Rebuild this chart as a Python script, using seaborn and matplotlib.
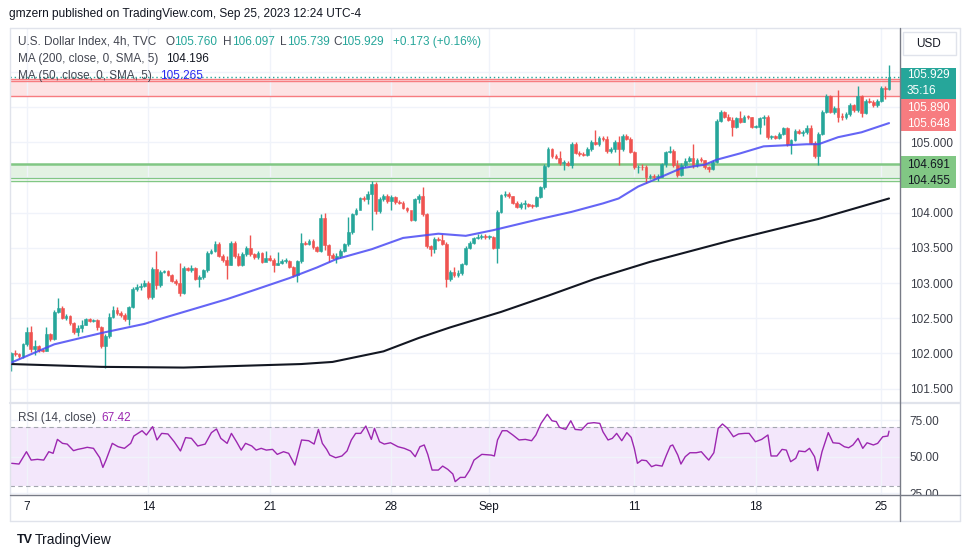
import numpy as np
import pandas as pd
import seaborn as sns
import matplotlib.pyplot as plt
from matplotlib.patches import Rectangle
from matplotlib.lines import Line2D

# ---- data (4h candles, U.S. Dollar Index, Aug 7 - Sep 25 2023) ----
first_open = 101.88
close = [102.00, 101.99, 101.96, 102.13, 102.31, 102.06, 102.10, 102.05, 102.04, 102.27,
         102.21, 102.59, 102.65, 102.51, 102.53, 102.43, 102.31, 102.36, 102.40, 102.49,
         102.46, 102.47, 102.37, 102.10, 102.25, 102.52, 102.62, 102.58, 102.55, 102.49,
         102.66, 102.92, 102.95, 102.96, 103.00, 102.80, 103.20, 102.97, 103.15,
         103.17, 103.12, 103.03, 103.00, 102.86, 103.21, 103.19, 103.22, 103.06, 103.08, 103.18,
         103.43, 103.45, 103.56, 103.39, 103.33, 103.26, 103.57, 103.39, 103.26, 103.41,
         103.50, 103.41, 103.37, 103.42, 103.30, 103.36, 103.33, 103.26, 103.28, 103.31,
         103.31, 103.23, 103.11, 103.31, 103.57, 103.56, 103.60,
         103.51, 103.46, 103.93, 103.54, 103.40, 103.36, 103.38, 103.46, 103.55, 103.73,
         103.98, 104.03, 104.20, 104.19, 104.26, 104.41, 104.02, 104.19, 104.24, 104.16,
         104.22, 104.15, 104.14, 104.07, 104.03, 103.90, 104.19, 104.24, 103.98, 103.52,
         103.48, 103.63, 103.61, 103.56, 103.06, 103.16, 103.12, 103.14, 103.27,
         103.50, 103.57, 103.64, 103.66, 103.67, 103.65, 103.66, 103.50, 104.01, 104.25,
         104.27, 104.23, 104.14, 104.08, 104.12, 104.12, 104.10, 104.09, 104.22, 104.36,
         104.66, 104.90, 104.80, 104.78, 104.70, 104.70, 104.68, 104.98, 104.85, 104.83,
         104.82, 104.90, 105.00, 104.98, 105.06, 105.04, 104.87, 104.90, 105.00,
         104.90, 105.09, 105.05, 104.86, 104.64, 104.65, 104.64, 104.50, 104.52, 104.50,
         104.51, 104.69, 104.86, 104.88, 104.68, 104.53, 104.67, 104.73, 104.77, 104.67,
         104.75, 104.74, 104.64, 104.62, 104.72, 105.30, 105.43, 105.36, 105.32, 105.21,
         105.34, 105.29, 105.36, 105.35, 105.22, 105.22, 105.34, 105.36,
         105.07, 105.08, 105.06, 105.12, 105.20, 104.98, 105.03, 105.16, 105.13, 105.14,
         105.20, 104.99, 104.81, 105.12, 105.43, 105.66, 105.43, 105.49, 105.36, 105.35,
         105.40, 105.52, 105.45, 105.66, 105.41, 105.59, 105.57, 105.52, 105.59, 105.77, 105.76, 105.929]
high = [102.02, 102.05, 102.01, 102.15, 102.37, 102.39, 102.19, 102.12, 102.07, 102.37,
        102.29, 102.62, 102.79, 102.67, 102.56, 102.55, 102.45, 102.40, 102.48, 102.51,
        102.51, 102.49, 102.49, 102.39, 102.28, 102.58, 102.67, 102.66, 102.60, 102.57,
        102.68, 102.95, 102.98, 103.00, 103.05, 103.03, 103.23, 103.46, 103.18,
        103.19, 103.18, 103.13, 103.06, 103.28, 103.24, 103.23, 103.26, 103.23, 103.12, 103.20,
        103.46, 103.48, 103.60, 103.58, 103.41, 103.38, 103.59, 103.59, 103.42, 103.44,
        103.53, 103.68, 103.43, 103.45, 103.44, 103.45, 103.40, 103.36, 103.44, 103.34,
        103.35, 103.32, 103.24, 103.33, 103.71, 103.60, 103.62,
        103.62, 103.53, 103.98, 104.00, 103.56, 103.42, 103.42, 103.48, 103.57, 103.94,
        104.00, 104.07, 104.22, 104.24, 104.30, 104.45, 104.43, 104.22, 104.27, 104.26,
        104.25, 104.24, 104.18, 104.16, 104.08, 104.00, 104.21, 104.27, 104.36, 104.00,
        103.54, 103.66, 103.65, 103.70, 103.58, 103.18, 103.23, 103.18, 103.29,
        103.52, 103.60, 103.66, 103.69, 103.70, 103.69, 103.68, 103.67, 104.03, 104.27,
        104.30, 104.29, 104.24, 104.16, 104.15, 104.18, 104.14, 104.12, 104.24, 104.38,
        104.69, 104.93, 104.91, 104.83, 104.88, 104.74, 104.73, 105.00, 105.00, 104.88,
        104.86, 104.93, 105.03, 105.17, 105.08, 105.08, 105.08, 104.93, 105.03,
        105.08, 105.12, 105.11, 105.07, 104.88, 104.68, 104.69, 104.67, 104.55, 104.55,
        104.55, 104.71, 104.88, 104.95, 104.90, 104.74, 104.70, 104.77, 104.80, 104.97,
        104.78, 104.79, 104.75, 104.66, 104.74, 105.33, 105.46, 105.44, 105.40, 105.35,
        105.36, 105.44, 105.38, 105.38, 105.36, 105.25, 105.36, 105.39,
        105.38, 105.10, 105.10, 105.15, 105.22, 105.22, 105.05, 105.19, 105.19, 105.17,
        105.24, 105.25, 105.01, 105.14, 105.45, 105.68, 105.67, 105.51, 105.74, 105.42,
        105.43, 105.55, 105.54, 105.79, 105.67, 105.61, 105.62, 105.60, 105.61, 105.79, 105.80, 106.097]
low = [101.75, 101.97, 101.93, 101.94, 102.10, 102.02, 101.98, 102.02, 102.02, 102.03,
       102.18, 102.19, 102.57, 102.49, 102.48, 102.40, 102.27, 102.25, 102.30, 102.40,
       102.44, 102.44, 102.34, 102.08, 101.79, 102.22, 102.50, 102.55, 102.52, 102.46,
       102.40, 102.64, 102.88, 102.90, 102.94, 102.77, 102.78, 102.92, 102.94,
       103.14, 103.10, 103.01, 102.97, 102.82, 102.85, 103.17, 103.16, 103.04, 102.95, 103.06,
       103.16, 103.41, 103.44, 103.37, 103.30, 103.06, 103.25, 103.36, 103.24, 103.24,
       103.39, 103.39, 103.34, 103.34, 103.28, 103.33, 103.31, 103.15, 103.25, 103.27,
       103.29, 103.21, 103.08, 103.02, 103.28, 103.54, 103.54,
       103.49, 103.44, 103.44, 103.47, 103.30, 103.34, 103.28, 103.35, 103.44, 103.53,
       103.70, 103.97, 104.06, 104.16, 104.12, 103.75, 103.98, 104.00, 104.17, 104.14,
       104.03, 104.12, 104.12, 104.05, 104.01, 103.88, 103.88, 104.14, 103.95, 103.50,
       103.38, 103.42, 103.59, 103.54, 102.95, 103.03, 103.08, 103.08, 103.12,
       103.25, 103.49, 103.55, 103.62, 103.63, 103.62, 103.63, 103.48, 103.28, 103.99,
       104.22, 104.20, 104.12, 104.06, 104.05, 104.05, 104.08, 104.07, 104.08, 104.20,
       104.34, 104.64, 104.78, 104.76, 104.68, 104.60, 104.66, 104.63, 104.83, 104.80,
       104.80, 104.80, 104.88, 104.96, 104.95, 105.02, 104.85, 104.85, 104.86,
       104.68, 104.88, 105.03, 104.84, 104.62, 104.56, 104.60, 104.42, 104.48, 104.47,
       104.45, 104.50, 104.65, 104.84, 104.65, 104.50, 104.52, 104.64, 104.72, 104.63,
       104.64, 104.72, 104.62, 104.57, 104.60, 104.70, 105.28, 105.34, 105.30, 105.09,
       105.20, 105.27, 105.28, 105.33, 105.20, 105.20, 105.12, 105.25,
       105.05, 105.04, 105.04, 105.05, 105.10, 104.95, 104.83, 105.01, 105.11, 105.09,
       105.12, 104.97, 104.78, 104.67, 105.10, 105.41, 105.41, 105.40, 105.29, 105.32,
       105.33, 105.37, 105.43, 105.43, 105.35, 105.40, 105.55, 105.50, 105.50, 105.57, 105.61, 105.739]

# moving averages (bar number, value)
ma50_bar = [0, 11, 23, 34, 38, 55, 62, 71, 78, 83, 92, 100, 109, 116, 123, 135, 143, 151,
            155, 160, 166, 171, 177, 180, 186, 192, 203, 206, 211, 217, 224]
ma50_val = [101.87, 102.13, 102.29, 102.42, 102.49, 102.77, 102.90, 103.07, 103.22, 103.34,
            103.48, 103.64, 103.70, 103.67, 103.75, 103.91, 104.01, 104.13, 104.20, 104.37,
            104.51, 104.63, 104.68, 104.75, 104.84, 104.94, 104.97, 104.97, 105.07, 105.14, 105.27]
ma200_bar = [0, 23, 44, 74, 82, 95, 104, 112, 125, 137, 149, 163, 184, 206, 224]
ma200_val = [101.85, 101.81, 101.80, 101.85, 101.88, 102.03, 102.22, 102.37, 102.59,
             102.82, 103.06, 103.30, 103.61, 103.91, 104.20]

# RSI(14)
rsi_bar = [0.1, 2.0, 3.9, 5.1, 6.7, 8.3, 9.6, 10.7, 11.8, 13.1,
           14.3, 15.9, 17.0, 18.3, 19.4, 21.0, 22.6, 23.4, 24.2, 25.8,
           27.3, 28.9, 30.5, 31.3, 33.4, 34.5, 36.1, 37.2, 38.4, 40.0,
           41.6, 43.2, 44.5, 46.0, 47.6, 49.5, 51.1, 52.4, 53.5, 55.1,
           56.2, 57.5, 58.7, 59.8, 61.4, 62.5, 63.8, 65.1, 66.7, 67.9,
           69.5, 70.8, 72.4, 74.1, 75.9, 77.3, 78.4, 79.4, 80.5, 81.3,
           82.8, 84.4, 85.7, 86.8, 87.9, 89.2, 90.5, 91.9, 92.7, 94.0,
           95.2, 96.8, 98.7, 100.3, 101.9, 103.1, 104.3, 105.4, 106.3, 107.4,
           109.0, 110.1, 111.4, 112.7, 113.3, 114.6, 115.8, 117.0, 118.1, 120.1,
           122.5, 123.3, 124.1, 125.3, 126.5, 128.0, 129.6, 131.2, 132.8, 133.9,
           135.2, 136.8, 138.0, 139.1, 139.9, 141.5, 142.8, 143.9, 145.5, 147.1,
           148.7, 150.2, 151.0, 152.3, 153.4, 154.5, 155.8, 157.1, 158.2, 159.0,
           159.8, 160.9, 162.1, 163.4, 164.5, 166.1, 167.2, 168.2, 168.8, 170.1,
           170.9, 172.0, 173.2, 174.8, 176.1, 177.2, 178.0, 179.3, 180.4, 181.5,
           182.8, 184.3, 185.6, 187.2, 188.3, 189.9, 191.5, 193.1, 193.9, 195.4,
           196.7, 197.8, 198.9, 200.2, 201.0, 202.6, 203.7, 205.0, 205.8, 206.9,
           208.5, 209.7, 211.3, 212.6, 213.7, 214.8, 216.1, 217.3, 218.4, 220.0,
           221.1, 222.4, 223.7, 224.0]
rsi_val = [45.5, 45.0, 53.4, 47.7, 48.2, 47.7, 53.4, 52.3, 61.8, 59.1,
           58.6, 54.1, 55.0, 55.7, 56.4, 55.7, 49.3, 42.7, 47.7, 59.1,
           56.8, 55.7, 59.1, 64.1, 67.7, 64.8, 70.5, 61.4, 65.9, 65.5,
           60.2, 53.9, 63.0, 62.5, 57.3, 58.6, 66.4, 68.9, 62.5, 59.1,
           65.9, 60.2, 54.5, 59.1, 57.3, 54.5, 55.7, 54.5, 55.0, 51.6,
           53.4, 52.3, 44.3, 61.4, 60.9, 58.6, 68.6, 59.1, 55.0, 51.1,
           49.3, 50.5, 53.9, 61.4, 65.9, 65.9, 70.9, 61.8, 69.3, 60.2,
           58.6, 59.5, 56.8, 55.7, 53.9, 50.0, 56.8, 58.0, 51.6, 40.9,
           40.9, 43.6, 41.4, 38.2, 33.0, 35.9, 35.9, 40.9, 47.7, 51.6,
           51.1, 50.5, 61.4, 67.7, 67.7, 64.8, 61.4, 61.8, 60.9, 64.8,
           72.7, 78.9, 74.5, 73.9, 70.0, 68.6, 74.5, 68.6, 68.2, 72.7,
           73.2, 72.7, 67.0, 61.4, 62.5, 65.9, 60.9, 66.4, 63.2, 55.7,
           45.5, 47.7, 47.3, 43.2, 44.3, 43.6, 51.1, 57.3, 58.0, 51.1,
           45.0, 50.0, 52.7, 52.7, 53.4, 50.0, 47.7, 52.7, 69.3, 72.3,
           69.3, 63.6, 65.5, 65.9, 65.9, 60.2, 61.8, 64.8, 50.5, 50.5,
           55.0, 54.5, 46.6, 48.9, 53.9, 53.4, 55.7, 50.0, 40.5, 53.4,
           66.4, 59.5, 59.1, 56.8, 56.1, 58.0, 62.5, 55.7, 59.5, 58.0,
           59.1, 63.6, 64.1, 67.4]

resist_lines = [105.648, 105.865, 105.890]
support_lines = [104.455, 104.497, 104.691]
last_price = 105.929

price_ticks = [101.5, 102.0, 102.5, 103.0, 103.5, 104.0, 104.5, 105.0, 105.5, 106.0]
price_tick_labels = ["101.500", "102.000", "102.500", "103.000", "103.500", "104.000",
                     "", "105.000", "", ""]
date_bars = [4, 35, 66, 97, 122, 159, 190, 222]
date_labels = ["7", "14", "21", "28", "Sep", "11", "18", "25"]

# ---- style ----
GREEN = "#26a69a"
RED = "#ef5350"
BLUE = "#4a4af4"
PURPLE = "#9c27b0"
TXT = "#131722"
GRID = "#f0f3fa"
BORDER = "#e0e3eb"

sns.set_theme(style="white")
plt.rcParams['font.family'] = ['Liberation Sans', 'DejaVu Sans']

W, H = 970, 557
def fx(x):
    return x / W
def fy(y):
    return 1 - y / H

fig = plt.figure(figsize=(9.7, 5.57), dpi=100)
fig.patch.set_facecolor("white")
ax = fig.add_axes([fx(10), fy(403), 890 / W, 375 / H])
ax_rsi = fig.add_axes([fx(10), fy(495), 890 / W, 92 / H], sharex=ax)

# candles
df = pd.DataFrame({"close": close, "high": high, "low": low})
df["open"] = [first_open] + close[:-1]
df["bar"] = np.arange(len(df))
cols = np.where(df["close"] >= df["open"], GREEN, RED)
ax.vlines(df["bar"], df["low"], df["high"], colors=cols, lw=1.0, zorder=3)
body = (df["close"] - df["open"]).abs().clip(lower=0.014)
ax.bar(df["bar"], body, bottom=df[["open", "close"]].min(axis=1), width=0.72,
       color=cols, edgecolor=cols, linewidth=0.4, zorder=4)

# zones
ax.axhspan(resist_lines[0], resist_lines[2], color="#fde3e4", zorder=0.5, lw=0)
for v in resist_lines:
    ax.axhline(v, color="#f77c80", lw=1.0, zorder=1)
ax.axhspan(support_lines[1], support_lines[2], color="#e3f2e3", zorder=0.5, lw=0)
for v, w in zip(support_lines, [1.0, 1.0, 1.8]):
    ax.axhline(v, color="#81c784", lw=w, zorder=1)
ax.axhline(last_price, color=GREEN, lw=1.0, ls=(0, (1, 2)), zorder=2)

# moving averages
sns.lineplot(x=ma200_bar, y=ma200_val, ax=ax, color=TXT, lw=1.5, zorder=5)
sns.lineplot(x=ma50_bar, y=ma50_val, ax=ax, color=BLUE, lw=1.5, alpha=0.85, zorder=5)

ax.set_xlim(-0.3, 226.8)
ax.set_ylim(101.297, 106.62)
ax.set_yticks(price_ticks)
ax.set_yticklabels(price_tick_labels)
ax.yaxis.tick_right()
ax.tick_params(axis="y", length=0, pad=7, labelsize=8.5, labelcolor="#3b3e48")
ax.tick_params(axis="x", length=0, labelbottom=False)
ax.set_xticks(date_bars)
ax.grid(True, color=GRID, lw=1)
ax.set_xlabel("")
ax.set_ylabel("")
for s in ax.spines.values():
    s.set_visible(False)

# RSI
ax_rsi.axhspan(30, 70, color="#f3e7fb", zorder=0, lw=0)
for v in (30, 70):
    ax_rsi.axhline(v, color="#a3a6af", lw=0.8, ls=(0, (4, 3)), zorder=1)
sns.lineplot(x=rsi_bar, y=rsi_val, ax=ax_rsi, color=PURPLE, lw=1.0, zorder=3)
ax_rsi.set_ylim(23.9, 86.6)
ax_rsi.set_yticks([25, 50, 75])
ax_rsi.yaxis.tick_right()
ax_rsi.yaxis.set_major_formatter(plt.FormatStrFormatter("%.2f"))
ax_rsi.tick_params(axis="y", length=0, pad=7, labelsize=8.5, labelcolor="#3b3e48")
ax_rsi.set_xticks(date_bars)
ax_rsi.set_xticklabels(date_labels)
ax_rsi.tick_params(axis="x", length=0, pad=11, labelsize=8.5, labelcolor=TXT)
for lab in ax_rsi.get_xticklabels():
    lab.set_verticalalignment("baseline")
ax_rsi.grid(True, color=GRID, lw=1)
ax_rsi.set_xlabel("")
ax_rsi.set_ylabel("")
for s in ax_rsi.spines.values():
    s.set_visible(False)

# frame lines
def hline(y, x0, x1, c, lw=1.0):
    fig.add_artist(Line2D([fx(x0), fx(x1)], [fy(y), fy(y)], color=c, lw=lw))

def vline(x, y0, y1, c, lw=1.0):
    fig.add_artist(Line2D([fx(x), fx(x)], [fy(y0), fy(y1)], color=c, lw=lw))

def box(x0, y0, x1, y1, c, ec="none"):
    fig.add_artist(Rectangle((fx(x0), fy(y1)), (x1 - x0) / W, (y1 - y0) / H,
                             transform=fig.transFigure, facecolor=c, edgecolor=ec, lw=1))

box(900.5, 495.5, 959, 520, "white")
hline(28, 10, 960, BORDER)
hline(521, 10, 960, BORDER)
vline(10, 28, 521, BORDER)
vline(960, 28, 521, BORDER)
hline(403, 10, 960, BORDER, 1.6)
hline(495, 10, 960, "#787b86", 1.0)
vline(900, 28, 521, "#787b86", 1.0)

# price scale labels
box(900, 67.7, 956, 99.3, GREEN)
box(900, 99.3, 956, 130.7, "#f77c80")
box(900, 156, 956, 188, "#81c784")
box(903, 32, 956, 55, "white", BORDER)
lbl = dict(fontsize=8.5, va="center", ha="left")
fig.text(fx(929), fy(44), "USD", color=TXT, fontsize=8.5, va="center", ha="center")
fig.text(fx(907), fy(75.5), "105.929", color="white", **lbl)
fig.text(fx(907), fy(91), "35:16", color="white", **lbl)
fig.text(fx(907), fy(108), "105.890", color="white", **lbl)
fig.text(fx(907), fy(124), "105.648", color="white", **lbl)
fig.text(fx(907), fy(165), "104.691", color=TXT, **lbl)
fig.text(fx(907), fy(181.5), "104.455", color=TXT, **lbl)

# header and legends
fig.text(fx(9), fy(14), "gmzern published on TradingView.com, Sep 25, 2023 12:24 UTC-4",
         color=TXT, fontsize=8.6, va="center")
leg = dict(fontsize=8.5, va="center", ha="left")
GRAYT = "#434651"
fig.text(fx(18), fy(42), "U.S. Dollar Index, 4h, TVC", color=GRAYT, **leg)
for x0, k, xv, v in [(166, "O", 174, "105.760"), (223, "H", 232, "106.097"),
                     (280, "L", 287, "105.739"), (333, "C", 341, "105.929")]:
    fig.text(fx(x0), fy(42), k, color=GRAYT, **leg)
    fig.text(fx(xv), fy(42), v, color=GREEN, **leg)
fig.text(fx(393), fy(42), "+0.173 (+0.16%)", color=GREEN, **leg)
fig.text(fx(18), fy(59), "MA (200, close, 0, SMA, 5)", color=GRAYT, **leg)
fig.text(fx(166), fy(59), "104.196", color=TXT, **leg)
fig.text(fx(18), fy(76), "MA (50, close, 0, SMA, 5)", color=GRAYT, **leg)
fig.text(fx(160), fy(76), "105.265", color="#2929f0", **leg)
fig.text(fx(18), fy(418), "RSI (14, close)", color=GRAYT, **leg)
fig.text(fx(101), fy(418), "67.42", color=PURPLE, **leg)

# footer logo
fig.text(fx(17), fy(540), "TV", color=TXT, fontsize=9, fontweight="bold", va="center")
fig.text(fx(35), fy(540), "TradingView", color=TXT, fontsize=10, va="center")

fig.savefig("out.png", dpi=100, facecolor="white")
